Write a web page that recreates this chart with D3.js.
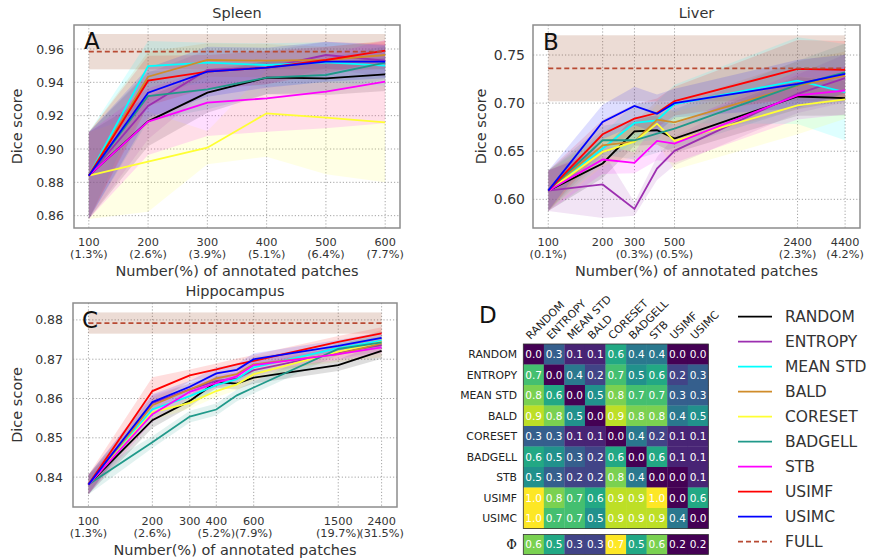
<!DOCTYPE html>
<html><head><meta charset="utf-8">
<script src="https://cdn.jsdelivr.net/npm/d3@7"></script>
<style>body{margin:0;background:#fff} text{font-family:"DejaVu Sans",sans-serif;fill:#333}</style>
</head><body><svg id="c" width="871" height="558"></svg>
<script>
const methods = ["RANDOM","ENTROPY","MEAN STD","BALD","CORESET","BADGELL","STB","USIMF","USIMC"];
const colors = ["#000000","#9c2fb0","#00ffff","#d08c2a","#ffff33","#20998a","#ff00ff","#ff0000","#0000ff"];
const fullColor = "#b84a33";

// ---- Spleen ----
const spleenX = [100,200,300,400,500,600];
const spleenTicks = [100,200,300,400,500,600];
const spleenTickPct = ["(1.3%)","(2.6%)","(3.9%)","(5.1%)","(6.4%)","(7.7%)"];
const spleenYTicks = [0.86,0.88,0.90,0.92,0.94,0.96];
const spleenMean = [
 [0.884,0.9166,0.9338,0.9428,0.9424,0.9448],
 [0.884,0.9258,0.9474,0.9488,0.9564,0.9530],
 [0.884,0.9498,0.9518,0.9504,0.9520,0.9500],
 [0.884,0.9434,0.9534,0.9530,0.9534,0.9564],
 [0.884,0.8924,0.9008,0.9214,0.9188,0.9160],
 [0.884,0.9318,0.9358,0.9428,0.9444,0.9518],
 [0.884,0.9164,0.9278,0.9304,0.9344,0.9404],
 [0.884,0.9410,0.9464,0.9488,0.9534,0.9590],
 [0.884,0.9338,0.9464,0.9488,0.9524,0.9524]
];
const spleenStd = [
 [0.026,0.015,0.012,0.010,0.010,0.010],
 [0.026,0.020,0.012,0.010,0.008,0.010],
 [0.026,0.015,0.012,0.013,0.012,0.012],
 [0.026,0.015,0.010,0.010,0.008,0.008],
 [0.026,0.030,0.010,0.026,0.034,0.036],
 [0.026,0.015,0.012,0.010,0.010,0.010],
 [0.026,0.020,0.020,0.020,0.022,0.025],
 [0.026,0.015,0.010,0.010,0.008,0.006],
 [0.026,0.015,0.015,0.012,0.012,0.010]
];
const spleenFull = [0.9584, 0.0106];

// ---- Liver ----
const liverX = [100,200,300,400,500,2400,4400];
const liverTicks = [100,200,300,500,2400,4400];
const liverTickPct = ["(0.1%)","","(0.3%)","(0.5%)","(2.3%)","(4.2%)"];
const liverYTicks = [0.60,0.65,0.70,0.75];
const liverMean = [
 [0.609,0.6373,0.6707,0.6718,0.6631,0.7069,0.7052],
 [0.609,0.6155,0.5900,0.6320,0.6504,0.7097,0.7259],
 [0.609,0.6528,0.6794,0.6820,0.6990,0.7234,0.7114],
 [0.609,0.6562,0.6600,0.6828,0.6800,0.7183,0.7286],
 [0.609,0.6493,0.6600,0.6787,0.6607,0.6976,0.7038],
 [0.609,0.6614,0.6614,0.6683,0.6735,0.7190,0.7320],
 [0.609,0.6414,0.6380,0.6607,0.6580,0.7080,0.7131],
 [0.609,0.6676,0.6838,0.6897,0.7021,0.7355,0.7345],
 [0.609,0.6804,0.6970,0.6890,0.7000,0.7200,0.7303]
];
const liverStd = [
 [0.021,0.015,0.015,0.015,0.015,0.020,0.018],
 [0.021,0.035,0.007,0.012,0.015,0.020,0.025],
 [0.021,0.015,0.020,0.020,0.020,0.045,0.050],
 [0.021,0.015,0.020,0.020,0.020,0.025,0.025],
 [0.021,0.015,0.015,0.020,0.030,0.030,0.020],
 [0.021,0.015,0.020,0.020,0.020,0.025,0.030],
 [0.021,0.015,0.011,0.020,0.020,0.025,0.025],
 [0.021,0.015,0.015,0.015,0.015,0.030,0.030],
 [0.021,0.018,0.020,0.020,0.015,0.025,0.020]
];
const liverFull = [0.7362, 0.0343];

// ---- Hippocampus ----
const hippoX = [100,200,300,400,500,600,1500,2400];
const hippoTicks = [100,200,300,400,600,1500,2400];
const hippoTickPct = ["(1.3%)","(2.6%)","","(5.2%)","(7.9%)","(19.7%)","(31.5%)"];
const hippoYTicks = [0.84,0.85,0.86,0.87,0.88];
const hippoMean = [
 [0.8381,0.8545,0.8594,0.8642,0.8638,0.8653,0.8685,0.8721],
 [0.8381,0.8588,0.8623,0.8645,0.8651,0.8672,0.8717,0.8736],
 [0.8381,0.8572,0.8606,0.8634,0.8649,0.8679,0.8728,0.8747],
 [0.8381,0.8583,0.8623,0.8651,0.8662,0.8687,0.8713,0.8740],
 [0.8381,0.8565,0.8589,0.8619,0.8636,0.8662,0.8719,0.8744],
 [0.8381,0.8489,0.8554,0.8572,0.8608,0.8628,0.8726,0.8743],
 [0.8381,0.8560,0.8617,0.8640,0.8657,0.8685,0.8713,0.8730],
 [0.8381,0.8619,0.8659,0.8674,0.8687,0.8696,0.8744,0.8766],
 [0.8381,0.8591,0.8630,0.8664,0.8673,0.8700,0.8734,0.8754]
];
const hippoStd = [
 [0.0025,0.0020,0.0015,0.0015,0.0015,0.0015,0.0015,0.0020],
 [0.0025,0.0020,0.0015,0.0015,0.0015,0.0015,0.0015,0.0015],
 [0.0025,0.0020,0.0015,0.0015,0.0015,0.0015,0.0015,0.0015],
 [0.0025,0.0020,0.0015,0.0015,0.0015,0.0020,0.0020,0.0035],
 [0.0025,0.0020,0.0015,0.0015,0.0015,0.0015,0.0015,0.0015],
 [0.0025,0.0015,0.0015,0.0015,0.0015,0.0015,0.0015,0.0015],
 [0.0025,0.0020,0.0015,0.0015,0.0015,0.0015,0.0015,0.0015],
 [0.0025,0.0035,0.0015,0.0015,0.0015,0.0015,0.0015,0.0015],
 [0.0025,0.0020,0.0015,0.0015,0.0015,0.0015,0.0015,0.0015]
];
const hippoFull = [0.8792, 0.0027];

// ---- Heatmap ----
const matrixValues = [
 [0.0,0.3,0.1,0.1,0.6,0.4,0.4,0.0,0.0],
 [0.7,0.0,0.4,0.2,0.7,0.5,0.6,0.2,0.3],
 [0.8,0.6,0.0,0.5,0.8,0.7,0.7,0.3,0.3],
 [0.9,0.8,0.5,0.0,0.9,0.8,0.8,0.4,0.5],
 [0.3,0.3,0.1,0.1,0.0,0.4,0.2,0.1,0.1],
 [0.6,0.5,0.3,0.2,0.6,0.0,0.6,0.1,0.1],
 [0.5,0.3,0.2,0.2,0.8,0.4,0.0,0.0,0.1],
 [1.0,0.8,0.7,0.6,0.9,0.9,1.0,0.0,0.6],
 [1.0,0.7,0.7,0.5,0.9,0.9,0.9,0.4,0.0]
];
const phiValues = [0.6,0.5,0.3,0.3,0.7,0.5,0.6,0.2,0.2];

const svg = d3.select("#c");

function panel(o) {
  const g = svg.append("g");
  const x = (o.log ? d3.scaleLog() : d3.scaleLinear()).domain(o.xd).range([o.l, o.r]);
  const y = d3.scaleLinear().domain(o.yd).range([o.b, o.t]);
  g.selectAll(".gy").data(o.yTicks).join("line")
    .attr("x1", o.l).attr("x2", o.r).attr("y1", d => y(d)).attr("y2", d => y(d))
    .attr("stroke", "#9a9a9a").attr("stroke-width", 0.9).attr("stroke-dasharray", "1.2,2");
  g.selectAll(".gx").data(o.ticks).join("line")
    .attr("y1", o.t).attr("y2", o.b).attr("x1", d => x(d)).attr("x2", d => x(d))
    .attr("stroke", "#9a9a9a").attr("stroke-width", 0.9).attr("stroke-dasharray", "1.2,2");
  const x0 = o.xs[0], x1 = o.xs[o.xs.length - 1];
  g.append("rect").attr("x", x(x0)).attr("width", x(x1) - x(x0))
    .attr("y", y(o.full[0] + o.full[1])).attr("height", y(o.full[0] - o.full[1]) - y(o.full[0] + o.full[1]))
    .attr("fill", "#a0522d").attr("fill-opacity", 0.2);
  const area = d3.area().x((d, i) => x(o.xs[i])).y0(d => y(d[0] - d[1])).y1(d => y(d[0] + d[1]));
  o.mean.forEach((m, k) => {
    const dd = m.map((v, i) => [v, o.std[k][i]]);
    g.append("path").attr("d", area(dd)).attr("fill", colors[k]).attr("fill-opacity", 0.13);
  });
  const line = d3.line().x((d, i) => x(o.xs[i])).y(d => y(d));
  o.mean.forEach((m, k) => {
    g.append("path").attr("d", line(m)).attr("fill", "none").attr("stroke", colors[k]).attr("stroke-width", 1.8);
  });
  g.append("line").attr("x1", x(x0)).attr("x2", x(x1)).attr("y1", y(o.full[0])).attr("y2", y(o.full[0]))
    .attr("stroke", fullColor).attr("stroke-width", 1.8).attr("stroke-dasharray", "5,3");
  g.append("rect").attr("x", o.l).attr("y", o.t).attr("width", o.r - o.l).attr("height", o.b - o.t)
    .attr("fill", "none").attr("stroke", "#8c8c8c").attr("stroke-width", 1.5);
  g.selectAll(".yt").data(o.yTicks).join("text")
    .attr("x", o.l - o.yPad).attr("y", d => y(d)).attr("dy", "0.36em").attr("text-anchor", "end")
    .style("font-size", o.yfs + "px").text(d => d.toFixed(2));
  o.ticks.forEach((v, i) => {
    g.append("text").attr("x", x(v)).attr("y", o.b + 18).attr("text-anchor", "middle")
      .style("font-size", "11.3px").text(String(v));
    if (o.pct[i]) g.append("text").attr("x", x(v)).attr("y", o.b + 30).attr("text-anchor", "middle")
      .style("font-size", "11.3px").text(o.pct[i]);
  });
  g.append("text").attr("x", (o.l + o.r) / 2).attr("y", o.b + 48).attr("text-anchor", "middle")
    .style("font-size", "14.5px").text("Number(%) of annotated patches");
  g.append("text").attr("transform", `translate(${o.yl},${(o.t + o.b) / 2}) rotate(-90)`)
    .attr("text-anchor", "middle").style("font-size", "14.5px").text("Dice score");
  g.append("text").attr("x", (o.l + o.r) / 2).attr("y", o.t - 7).attr("text-anchor", "middle")
    .style("font-size", "14.5px").text(o.title);
  g.append("text").attr("x", o.lx).attr("y", o.ly).style("font-size", "23px").style("fill", "#111").text(o.letter);
}

panel({l:74, r:400, t:25, b:228, xd:[75,625], yd:[0.8526,0.9744], log:false, xs:spleenX, ticks:spleenTicks, pct:spleenTickPct,
  yTicks:spleenYTicks, mean:spleenMean, std:spleenStd, full:spleenFull, title:"Spleen", letter:"A", lx:84, ly:49, yPad:10, yfs:12.5, yl:22});
panel({l:533, r:860, t:25, b:228, xd:[82.3,5320], yd:[0.5702,0.7812], log:true, xs:liverX, ticks:liverTicks, pct:liverTickPct,
  yTicks:liverYTicks, mean:liverMean, std:liverStd, full:liverFull, title:"Liver", letter:"B", lx:543, ly:50, yPad:8, yfs:14, yl:486});
panel({l:73, r:397, t:303, b:507, xd:[84.6,2836], yd:[0.8324,0.8843], log:true, xs:hippoX, ticks:hippoTicks, pct:hippoTickPct,
  yTicks:hippoYTicks, mean:hippoMean, std:hippoStd, full:hippoFull, title:"Hippocampus", letter:"C", lx:82, ly:328, yPad:10, yfs:12.5, yl:22});

// ---- Heatmap D ----
const hm = svg.append("g");
const cx = d3.scaleBand().domain(methods).range([523.3, 708.3]);
const cy = d3.scaleBand().domain(methods).range([344, 528.5]);
const col = d3.scaleSequential(d3.interpolateViridis).domain([0, 1]);
const colPhi = d3.scaleSequential(d3.interpolateViridis).domain([0.2, 0.7]);
matrixValues.forEach((row, i) => row.forEach((v, j) => {
  hm.append("rect").attr("x", cx(methods[j])).attr("y", cy(methods[i])).attr("width", cx.bandwidth() + 0.3)
    .attr("height", cy.bandwidth() + 0.3).attr("fill", col(v));
  hm.append("text").attr("x", cx(methods[j]) + cx.bandwidth() / 2).attr("y", cy(methods[i]) + cy.bandwidth() / 2)
    .attr("dy", "0.36em").attr("text-anchor", "middle").style("font-size", "10.5px").style("fill", "#fff").text(v.toFixed(1));
}));
hm.append("rect").attr("x", 523.3).attr("y", 344).attr("width", 185).attr("height", 184.5)
  .attr("fill", "none").attr("stroke", "#333").attr("stroke-width", 0.8);
const phiY = 534.5, phiH = 20;
phiValues.forEach((v, j) => {
  hm.append("rect").attr("x", cx(methods[j])).attr("y", phiY).attr("width", cx.bandwidth() + 0.3).attr("height", phiH).attr("fill", colPhi(v));
  hm.append("text").attr("x", cx(methods[j]) + cx.bandwidth() / 2).attr("y", phiY + phiH / 2)
    .attr("dy", "0.36em").attr("text-anchor", "middle").style("font-size", "10.5px").style("fill", "#fff").text(v.toFixed(1));
});
hm.append("rect").attr("x", 523.3).attr("y", phiY).attr("width", 185).attr("height", phiH)
  .attr("fill", "none").attr("stroke", "#333").attr("stroke-width", 0.8);
methods.forEach(m => {
  hm.append("text").attr("x", 517).attr("y", cy(m) + cy.bandwidth() / 2).attr("dy", "0.36em")
    .attr("text-anchor", "end").style("font-size", "10.8px").style("fill", "#222").text(m);
  hm.append("text").attr("transform", `translate(${cx(m) + cx.bandwidth() / 2 - 3},340) rotate(-45)`)
    .style("font-size", "10.8px").style("fill", "#222").text(m);
});
hm.append("text").attr("x", 517).attr("y", phiY + phiH / 2).attr("dy", "0.36em").attr("text-anchor", "end")
  .style("font-family", "'DejaVu Serif',serif").style("font-size", "13px").style("fill", "#222").text("Φ");
hm.append("text").attr("x", 479).attr("y", 323).style("font-size", "23px").style("fill", "#111").text("D");

// ---- Legend ----
const lg = svg.append("g");
const legNames = methods.concat(["FULL"]);
const legColors = colors.concat([fullColor]);
const ly = d3.scaleLinear().domain([0, 9]).range([316.7, 541.7]);
legNames.forEach((n, i) => {
  lg.append("line").attr("x1", 738).attr("x2", 772).attr("y1", ly(i)).attr("y2", ly(i))
    .attr("stroke", legColors[i]).attr("stroke-width", 1.8).attr("stroke-dasharray", n === "FULL" ? "5,3" : null);
  lg.append("text").attr("x", 785).attr("y", ly(i)).attr("dy", "0.36em").style("font-size", "15.5px").text(n);
});
</script></body></html>
